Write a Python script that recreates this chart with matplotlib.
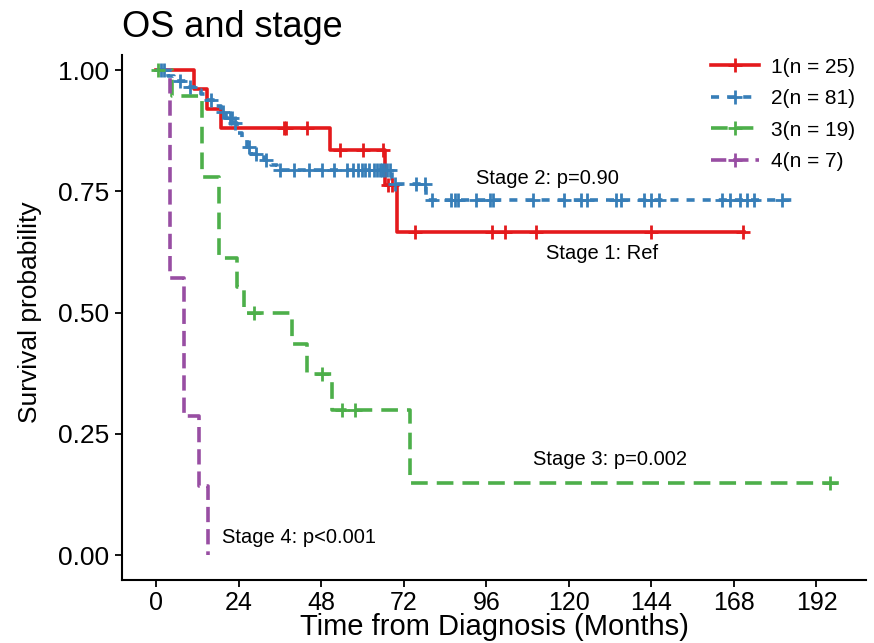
import numpy as np
import matplotlib
matplotlib.use("Agg")
import matplotlib.pyplot as plt
from matplotlib.lines import Line2D

plt.rcParams['font.family'] = ['Liberation Sans', 'DejaVu Sans']
plt.rcParams['lines.scale_dashes'] = False

# ---------------- data ----------------
stage1_t = [0, 10.9, 14.8, 19.0, 50.5, 66.5, 70.0]
stage1_s = [1.0, 0.96, 0.92, 0.88, 0.836, 0.763, 0.667]
stage1_end = 170.8
stage1_cens = [37.1, 37.8, 43.9, 53.5, 60.3, 66.0, 67.5, 68.5, 75.2, 97.6,
               101.4, 110.6, 144.0, 170.5]

stage2_t = [0, 3.4, 5.3, 9.2, 11.6, 13.0, 14.5, 17.4, 18.8, 20.3, 22.7, 23.6,
            25.0, 26.5, 27.5, 31.3, 33.3, 35.2, 68.5, 78.6]
stage2_s = [1.0, 0.988, 0.977, 0.966, 0.958, 0.950, 0.938, 0.926, 0.914, 0.902,
            0.890, 0.870, 0.856, 0.842, 0.826, 0.814, 0.804, 0.794, 0.766, 0.732]
stage2_end = 185.0
stage2_cens = [1.5, 2.4, 7.0, 10.0, 15.9, 19.5, 21.5, 22.2, 23.0, 27.0, 29.0,
               32.0, 36.0, 40.0, 44.4, 48.2, 51.6, 55.5, 57.4, 58.8, 59.8, 60.8,
               62.0, 63.5, 64.3, 65.0, 65.7, 66.4, 67.2, 68.0, 69.5, 75.7, 78.1,
               80.1, 85.8, 86.8, 87.8, 93.1, 97.0, 97.9, 109.5, 118.7, 123.5,
               125.4, 133.6, 135.1, 141.8, 143.8, 146.2, 164.5, 166.9, 169.8,
               171.7, 173.7, 182.0]

stage3_t = [0, 4.5, 13.5, 18.2, 23.6, 25.6, 39.5, 43.9, 51.1, 73.8]
stage3_s = [1.0, 0.947, 0.779, 0.612, 0.553, 0.498, 0.436, 0.374, 0.299, 0.148]
stage3_end = 199.0
stage3_cens = [0.5, 28.5, 48.2, 54.0, 57.9, 196.0]

stage4_t = [0, 4.1, 8.0, 12.6, 15.0]
stage4_s = [1.0, 0.571, 0.286, 0.143, 0.0]
stage4_end = 15.0
stage4_cens = []

labels = ['1(n = 25)', '2(n = 81)', '3(n = 19)', '4(n = 7)']
colors = ['#E41A1C', '#377EB8', '#4DAF4A', '#984EA3']
annotations = ['Stage 1: Ref', 'Stage 2: p=0.90', 'Stage 3: p=0.002', 'Stage 4: p<0.001']
ann_x = [113.4, 93.0, 109.6, 19.2]
ann_y = [0.621, 0.777, 0.196, 0.037]
x_ticks = [0, 24, 48, 72, 96, 120, 144, 168, 192]
y_ticks = [0.0, 0.25, 0.5, 0.75, 1.0]

groups = [
    (stage1_t, stage1_s, stage1_end, stage1_cens),
    (stage2_t, stage2_s, stage2_end, stage2_cens),
    (stage3_t, stage3_s, stage3_end, stage3_cens),
    (stage4_t, stage4_s, stage4_end, stage4_cens),
]
dash_styles = ['solid', (0, (5.8, 5.8)), (0, (12, 6.5)), (0, (11, 5))]

# ---------------- figure ----------------
fig = plt.figure(figsize=(8.74, 6.43), dpi=100)
ax = fig.add_axes([122 / 874, 1 - 580 / 643, (866 - 122) / 874, (580 - 55) / 643])

lw = 2.6
for (t, s, end, cens), col, ls in zip(groups, colors, dash_styles):
    xs = list(t) + [end]
    ys = list(s) + [s[-1]]
    ax.step(xs, ys, where='post', color=col, lw=lw, linestyle=ls, zorder=3)
    if cens:
        idx = np.searchsorted(np.array(t), np.array(cens), side='right') - 1
        cy = np.array(s)[idx]
        ax.plot(cens, cy, linestyle='none', marker='+', color=col,
                markersize=10, mew=2.0, zorder=4)

for txt, x, y in zip(annotations, ann_x, ann_y):
    ax.text(x, y, txt, fontsize=14.5, ha='left', va='center', color='black')

ax.set_xlim(-9.9, 206.4)
ax.set_ylim(-0.0515, 1.031)
ax.set_xticks(x_ticks)
ax.set_xticklabels([str(v) for v in x_ticks])
ax.set_yticks(y_ticks)
ax.set_yticklabels([f'{v:.2f}' for v in y_ticks])
ax.tick_params(axis='x', labelsize=18, length=5, width=1.3, direction='out', pad=3)
ax.tick_params(axis='y', labelsize=19, length=5, width=1.3, direction='out', pad=4)
for side in ['top', 'right']:
    ax.spines[side].set_visible(False)
for side in ['left', 'bottom']:
    ax.spines[side].set_linewidth(1.5)

ax.set_xlabel('Time from Diagnosis (Months)', fontsize=21)
ax.xaxis.label.set_verticalalignment('baseline')
ax.xaxis.set_label_coords(0.5, (580 - 635) / 525)
ax.set_ylabel('Survival probability', fontsize=19)
ax.yaxis.set_label_coords((42 - 122) / 744, (580 - 312) / 525)
ax.set_title('OS and stage', fontsize=26, loc='left', pad=13)

handles = [Line2D([0], [0], color=c, lw=lw, linestyle=ls, marker='+',
                  markersize=10, mew=2.0)
           for c, ls in zip(colors, dash_styles)]
leg = ax.legend(handles, labels, loc='upper right', bbox_to_anchor=(874 / 874, 1 - 39 / 643),
                bbox_transform=fig.transFigure, frameon=False, fontsize=15,
                handlelength=2.3, labelspacing=0.6, handletextpad=0.6)

fig.savefig('out.png', dpi=100)
